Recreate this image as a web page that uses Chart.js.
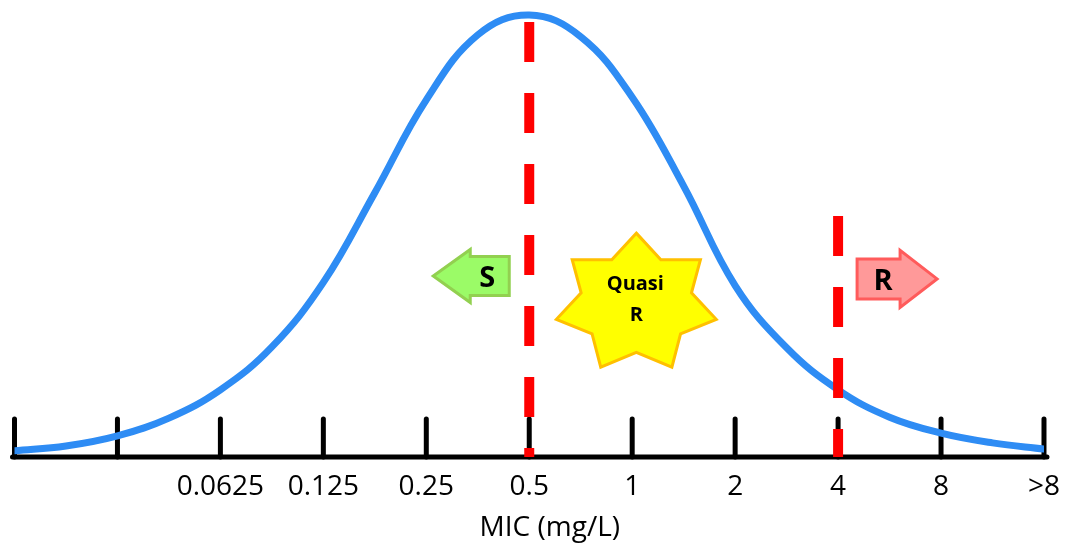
<!DOCTYPE html>
<html>
<head>
<meta charset="utf-8">
<script src="https://cdn.jsdelivr.net/npm/chart.js@4.4.1/dist/chart.umd.min.js"></script>
<style>
  html, body { margin: 0; padding: 0; background: #ffffff; }
  #wrap { position: relative; width: 1073px; height: 552px; }
</style>
</head>
<body>
<div id="wrap"><canvas id="mic"></canvas></div>
<script>
// MIC dilution steps along the axis (first two slots carry no label)
const micLabels = ['', '', '0.0625', '0.125', '0.25', '0.5', '1', '2', '4', '8', '>8'];

// Distribution curve, sampled at half-step positions on the dilution axis
const curveX = [0, 0.5, 1, 1.5, 2, 2.5, 3, 3.5, 4, 4.5, 5, 5.5, 6, 6.5, 7, 7.5, 8, 8.5, 9, 9.5, 10];
const curveY = [1.4, 2.5, 4.8, 8.8, 15.2, 24.9, 39.5, 59.8, 80.8, 95.5, 100, 95.1, 81.4, 61.3, 38.8, 24.7, 15.2, 9.0, 5.4, 3.2, 1.8];

// Breakpoints: S at 0.5 mg/L, R at 4 mg/L (axis index, height of the marker line)
const breakpointX = [5, 8];
const breakpointTop = [98.4, 54.5];

const FONT = '"Open Sans", "DejaVu Sans", sans-serif';

const curveData = curveX.map((x, i) => ({ x: x, y: curveY[i] }));
const breakpointSets = breakpointX.map((bx, i) => ({
  type: 'line',
  data: [{ x: bx, y: breakpointTop[i] }, { x: bx, y: 0 }],
  borderColor: '#FF0000',
  borderWidth: 10,
  borderDash: [40, 31],
  borderCapStyle: 'butt',
  pointRadius: 0,
  tension: 0,
  order: 0
}));

// Baseline with upward tick marks at each dilution step
const axisMarks = {
  id: 'axisMarks',
  beforeDatasetsDraw(chart) {
    const { ctx } = chart;
    const xs = chart.scales.x, ys = chart.scales.y;
    const y0 = ys.getPixelForValue(0);
    ctx.save();
    ctx.strokeStyle = '#000000';
    ctx.lineWidth = 5;
    ctx.lineCap = 'round';
    ctx.beginPath();
    ctx.moveTo(xs.getPixelForValue(xs.min) - 2, y0);
    ctx.lineTo(xs.getPixelForValue(xs.max) + 3, y0);
    ctx.stroke();
    xs.ticks.forEach(t => {
      const px = xs.getPixelForValue(t.value);
      ctx.beginPath();
      ctx.moveTo(px, y0);
      ctx.lineTo(px, y0 - 38);
      ctx.stroke();
    });
    ctx.restore();
  }
};

function blockArrow(ctx, backX, neckX, tipX, cy, bodyHalf, headHalf, fill, stroke) {
  ctx.beginPath();
  ctx.moveTo(backX, cy - bodyHalf);
  ctx.lineTo(neckX, cy - bodyHalf);
  ctx.lineTo(neckX, cy - headHalf);
  ctx.lineTo(tipX, cy);
  ctx.lineTo(neckX, cy + headHalf);
  ctx.lineTo(neckX, cy + bodyHalf);
  ctx.lineTo(backX, cy + bodyHalf);
  ctx.closePath();
  ctx.fillStyle = fill;
  ctx.fill();
  ctx.lineWidth = 3;
  ctx.lineJoin = 'miter';
  ctx.strokeStyle = stroke;
  ctx.stroke();
}

function star7(ctx, cx, cy, rx, ry, inner, fill, stroke) {
  ctx.beginPath();
  for (let k = 0; k < 14; k++) {
    const a = (-90 + k * 360 / 14) * Math.PI / 180;
    const r = k % 2 === 0 ? 1 : inner;
    const px = cx + rx * r * Math.cos(a);
    const py = cy + ry * r * Math.sin(a);
    if (k === 0) ctx.moveTo(px, py); else ctx.lineTo(px, py);
  }
  ctx.closePath();
  ctx.fillStyle = fill;
  ctx.fill();
  ctx.lineWidth = 3;
  ctx.lineJoin = 'miter';
  ctx.strokeStyle = stroke;
  ctx.stroke();
}

function label(ctx, text, x, capCenterY, size) {
  ctx.font = 'bold ' + size + 'px ' + FONT;
  ctx.fillStyle = '#000000';
  ctx.textAlign = 'center';
  ctx.textBaseline = 'alphabetic';
  ctx.fillText(text, x, capCenterY + size * 0.357);
}

// Category callouts and the axis title
const callouts = {
  id: 'callouts',
  afterDatasetsDraw(chart) {
    const { ctx } = chart;
    const xs = chart.scales.x, ys = chart.scales.y;
    const sX = xs.getPixelForValue(breakpointX[0]);
    const rX = xs.getPixelForValue(breakpointX[1]);
    ctx.save();

    // S: pointing left from the 0.5 mg/L breakpoint
    const sY = ys.getPixelForValue(40.95);
    blockArrow(ctx, sX - 20, sX - 59, sX - 96, sY, 19.5, 26.5, '#9BFB67', '#92D050');
    label(ctx, 'S', sX - 42, sY + 1, 29);

    // R: pointing right from the 4 mg/L breakpoint
    const rY = ys.getPixelForValue(40.3);
    blockArrow(ctx, rX + 19, rX + 62, rX + 99, rY, 20, 28.5, '#FF9999', '#FF5B5B');
    label(ctx, 'R', rX + 45, rY + 1, 29);

    // Quasi R: seven-point star between the breakpoints
    const qX = xs.getPixelForValue(6.04);
    const qY = ys.getPixelForValue(34.7);
    star7(ctx, qX, qY, 82, 70.5, 0.69, '#FFFF00', '#FFC000');
    label(ctx, 'Quasi', qX - 1, qY - 20.5, 20);
    label(ctx, 'R', qX, qY + 10.5, 20);

    // Axis title
    ctx.font = '28px ' + FONT;
    ctx.fillStyle = '#000000';
    ctx.textAlign = 'center';
    ctx.textBaseline = 'alphabetic';
    ctx.fillText('MIC (mg/L)', xs.getPixelForValue(5.2), 536);
    ctx.restore();
  }
};

new Chart(document.getElementById('mic'), {
  type: 'line',
  data: {
    datasets: [
      ...breakpointSets,
      {
        type: 'line',
        data: curveData,
        borderColor: '#2E8CF4',
        borderWidth: 7,
        borderCapStyle: 'round',
        borderJoinStyle: 'round',
        tension: 0.4,
        pointRadius: 0,
        order: 1
      }
    ]
  },
  options: {
    responsive: true,
    maintainAspectRatio: false,
    animation: false,
    events: [],
    layout: { padding: { left: 14.5, right: 27, top: 0, bottom: 0 } },
    plugins: { legend: { display: false }, tooltip: { enabled: false }, title: { display: false } },
    scales: {
      x: {
        type: 'linear',
        min: 0,
        max: 10,
        afterBuildTicks(scale) { scale.ticks = micLabels.map((_, i) => ({ value: i })); },
        afterFit(scale) { scale.height = 95; },
        grid: { display: false, drawTicks: false },
        border: { display: false },
        ticks: {
          autoSkip: false,
          maxRotation: 0,
          padding: 13,
          color: '#000000',
          font: { family: FONT, size: 28 },
          callback: (v) => micLabels[Math.round(v)]
        }
      },
      y: {
        display: false,
        min: 0,
        max: 103.4
      }
    }
  },
  plugins: [axisMarks, callouts]
});
</script>
</body>
</html>
